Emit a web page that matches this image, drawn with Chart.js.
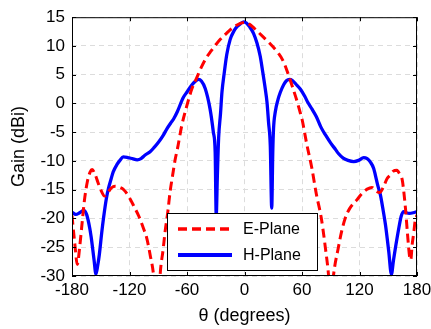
<!DOCTYPE html>
<html>
<head>
<meta charset="utf-8">
<script src="https://cdn.jsdelivr.net/npm/chart.js@4.4.1/dist/chart.umd.min.js"></script>
<style>
  html, body { margin: 0; padding: 0; background: #fff; }
  #wrap { width: 431px; height: 329px; }
</style>
</head>
<body>
<div id="wrap"><canvas id="grafico" width="431" height="329"></canvas></div>
<script>
const xTicks = [-180, -120, -60, 0, 60, 120, 180]
const yTicks = [-30, -25, -20, -15, -10, -5, 0, 5, 10, 15]

const eAngles = [-180, -177, -174.5, -172, -170, -167, -164, -161, -159, -156, -153, -150, -146, -143, -139, -135, -130, -126, -120, -115, -110, -105, -102, -98.5, -95, -92, -89, -88, -85, -82.8, -80, -77.6, -75, -72.4, -70, -65.4, -60, -55, -50, -45, -40, -35, -30, -25, -20, -15, -10, -5, 0, 5, 10, 15, 20, 25, 30, 35, 40, 45, 50, 55, 58, 60, 65, 70, 75, 80, 84.4, 88, 90, 92, 93, 98, 101, 105, 110, 117, 123, 128, 133, 138, 141, 145, 149, 152.3, 155, 159, 162, 164.5, 166, 168, 170, 172.4, 173.5, 175, 176.6, 178, 180]
const eGain = [-19.5, -24.5, -28, -25, -21.7, -16.8, -13.6, -11.9, -11.5, -12.3, -13.7, -15.0, -16.1, -15.6, -14.7, -14.4, -14.6, -15.0, -16.4, -18.0, -19.7, -21.9, -23.4, -26.3, -29.7, -36, -33, -29.7, -25.5, -22.2, -18.8, -15.3, -12.5, -9.8, -7.9, -3.8, -0.3, 2.5, 4.4, 6.3, 7.9, 9.1, 10.2, 11.2, 12.0, 12.8, 13.4, 13.9, 14.1, 13.8, 13.1, 12.3, 11.5, 10.7, 9.8, 8.8, 7.5, 5.4, 2.9, 0.3, -1.5, -2.7, -7.1, -11.0, -15.8, -19.8, -25.1, -30.5, -36, -31.5, -29.7, -25.0, -22.5, -20.0, -18.2, -16.8, -15.6, -14.9, -14.6, -15.3, -15.5, -14.5, -13.0, -12.4, -11.8, -11.6, -12.3, -13.2, -15.0, -18.3, -22.5, -26.8, -27.2, -24.5, -22.5, -20.5, -19.4]

const hAngles = [-180, -176, -172, -168, -165, -162.5, -160, -157, -155, -153, -151.5, -149, -147, -144, -142, -139, -137, -133, -130, -126.5, -122, -117, -112, -108, -104, -98.5, -94, -90, -85, -81, -77, -74, -70, -64, -60, -55, -51, -48, -45, -41, -36, -32.5, -30.6, -29.5, -28.3, -27, -25, -23.5, -21, -18.5, -15, -11, -7.6, -4, -0.7, 2, 5, 9.4, 13, 16.4, 19, 21.7, 23.5, 25.1, 26.9, 28.4, 29.5, 30.3, 32.1, 35, 37.3, 41, 44, 47.1, 50, 54, 58.2, 63, 66, 70.5, 75, 80, 85, 90, 95, 98, 103, 108, 114, 119, 124.4, 128, 131.4, 134.8, 136.6, 139, 141.8, 144.5, 147.1, 150.5, 153.3, 155.5, 157.5, 161, 163.5, 166.2, 169, 172, 176, 180]
const hGain = [-18.9, -19.3, -19.0, -18.6, -19.2, -20.8, -23.2, -27.2, -29.7, -28.0, -26.3, -22.5, -19.8, -16.4, -14.8, -13.0, -11.9, -10.6, -9.9, -9.3, -9.4, -9.6, -9.8, -9.6, -9.0, -8.4, -7.6, -6.8, -5.6, -4.4, -3.4, -2.7, -1.4, 1.0, 2.0, 3.2, 3.9, 4.2, 3.9, 2.6, -0.9, -5.0, -8.5, -19.5, -12.5, -6.0, -1.7, 2.0, 5.5, 8.5, 11.1, 12.6, 13.4, 13.9, 14.2, 14.0, 13.4, 12.2, 10.5, 8.2, 5.5, 2.5, 0.2, -3.3, -7.3, -18.2, -8.5, -4.4, -1.5, 0.7, 1.9, 3.3, 4.0, 4.2, 4.0, 3.3, 2.5, 1.2, 0.2, -1.0, -2.3, -4.2, -5.6, -6.9, -8.0, -8.7, -9.5, -9.9, -10.1, -9.9, -9.4, -9.6, -10.2, -11.3, -12.5, -14.2, -15.9, -18.4, -21.1, -25.7, -29.7, -27.2, -25.1, -21.7, -19.6, -18.8, -19.0, -19.1, -19.0, -18.8]

const fonte = 'Liberation Sans, Arial, Helvetica, sans-serif'

function pares(xs, ys) {
  return xs.map((x, i) => ({ x, y: ys[i] }))
}

// caixa em volta da area, tracinhos para dentro e legenda dentro do grafico
const caixaPlugin = {
  id: 'caixa',
  afterDraw(chart) {
    const ctx = chart.ctx
    const a = chart.chartArea
    const sx = chart.scales.x
    const sy = chart.scales.y
    ctx.save()
    ctx.strokeStyle = '#000'
    ctx.lineWidth = 1
    ctx.setLineDash([])
    ctx.strokeRect(a.left + 0.5, a.top + 0.5, a.right - a.left - 1, a.bottom - a.top - 1)
    ctx.beginPath()
    xTicks.forEach(v => {
      const px = Math.round(sx.getPixelForValue(v)) + 0.5
      ctx.moveTo(px, a.bottom); ctx.lineTo(px, a.bottom - 4)
      ctx.moveTo(px, a.top); ctx.lineTo(px, a.top + 4)
    })
    yTicks.forEach(v => {
      const py = Math.round(sy.getPixelForValue(v)) + 0.5
      ctx.moveTo(a.left, py); ctx.lineTo(a.left + 4, py)
      ctx.moveTo(a.right, py); ctx.lineTo(a.right - 4, py)
    })
    ctx.stroke()

    // legenda
    const bx = a.left + 95, by = a.bottom - 63, bw = 150, bh = 57
    ctx.fillStyle = '#fff'
    ctx.fillRect(bx, by, bw, bh)
    ctx.strokeRect(bx + 0.5, by + 0.5, bw, bh)
    ctx.font = '16px ' + fonte
    ctx.textBaseline = 'middle'
    chart.data.datasets.forEach((ds, i) => {
      const ly = by + 16 + i * 26
      ctx.beginPath()
      ctx.strokeStyle = ds.borderColor
      ctx.lineWidth = ds.borderWidth + 0.5
      ctx.setLineDash(ds.borderDash || [])
      ctx.moveTo(bx + 11, ly); ctx.lineTo(bx + 65, ly)
      ctx.stroke()
      ctx.fillStyle = '#000'
      ctx.fillText(ds.label, bx + 76, ly + 1)
    })
    ctx.restore()
  }
}

const ctx = document.getElementById('grafico').getContext('2d')
const grafico = new Chart(ctx, {
  type: 'line',
  data: {
    datasets: [{
      label: 'E-Plane',
      data: pares(eAngles, eGain),
      borderColor: '#ff0000',
      borderWidth: 3,
      borderDash: [9, 5],
      pointRadius: 0,
      cubicInterpolationMode: 'monotone',
      fill: false
    }, {
      label: 'H-Plane',
      data: pares(hAngles, hGain),
      borderColor: '#0000ff',
      borderWidth: 3.3,
      pointRadius: 0,
      cubicInterpolationMode: 'monotone',
      fill: false
    }]
  },
  options: {
    responsive: false,
    animation: false,
    layout: { padding: { left: 0, top: 13, right: 0, bottom: 0 } },
    plugins: {
      legend: { display: false },
      tooltip: { enabled: false }
    },
    scales: {
      x: {
        type: 'linear',
        min: -180,
        max: 180,
        afterBuildTicks: s => { s.ticks = xTicks.map(v => ({ value: v })) },
        afterFit: s => { s.height = 53; s.paddingRight = 14; s.paddingLeft = 0 },
        ticks: { color: '#000', font: { family: fonte, size: 17 }, padding: 4, maxRotation: 0 },
        grid: { color: '#dcdcdc', drawTicks: false },
        border: { display: false, dash: [5, 4] },
        title: { display: true, text: 'θ (degrees)', color: '#000', font: { family: fonte, size: 18 }, padding: { top: 0, bottom: 2 } }
      },
      y: {
        min: -30,
        max: 15,
        afterBuildTicks: s => { s.ticks = yTicks.map(v => ({ value: v })) },
        afterFit: s => { s.width = 72 },
        ticks: { color: '#000', font: { family: fonte, size: 17 }, padding: 7 },
        grid: { color: '#dcdcdc', drawTicks: false },
        border: { display: false, dash: [5, 4] },
        title: { display: true, text: 'Gain (dBi)', color: '#000', font: { family: fonte, size: 18 }, padding: { top: 8, bottom: 0 } }
      }
    }
  },
  plugins: [caixaPlugin]
})
</script>
</body>
</html>
